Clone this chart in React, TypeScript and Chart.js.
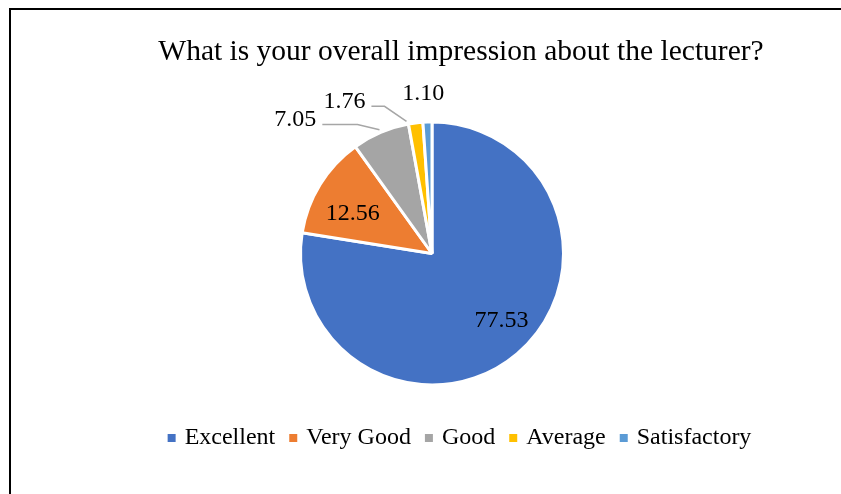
import React, { useEffect, useRef } from "react";
import { Chart, registerables } from "chart.js";

Chart.register(...registerables);

// ---- data ----
const titleText = "What is your overall impression about the lecturer?";
const categories = ["Excellent", "Very Good", "Good", "Average", "Satisfactory"];
const values = [77.53, 12.56, 7.05, 1.76, 1.1];
const colors = ["#4472C4", "#ED7D31", "#A5A5A5", "#FFC000", "#5B9BD5"];

const FONT = "'Liberation Serif', 'Times New Roman', serif";

// data-label placement relative to each slice (angle shift from mid-angle in deg, radius factor)
const labelPlacement = [
  { shift: -5.6, rf: 0.735, leader: false, anchorShift: 0 },
  { shift: -4.8, rf: 0.675, leader: false, anchorShift: 0 },
  { shift: -22.6, rf: 1.455, leader: true, anchorShift: 0 },
  { shift: -22.8, rf: 1.335, leader: true, anchorShift: -3.8 },
  { shift: -1.2, rf: 1.215, leader: false, anchorShift: 0 },
];

const pieLabels = {
  id: "pieLabels",
  afterDatasetsDraw(chart: any) {
    const ctx = chart.ctx as CanvasRenderingContext2D;
    const meta = chart.getDatasetMeta(0);
    ctx.save();
    ctx.font = `24px ${FONT}`;
    ctx.textAlign = "center";
    ctx.textBaseline = "middle";
    meta.data.forEach((arc: any, i: number) => {
      const { x, y, startAngle, endAngle, outerRadius } = arc.getProps(
        ["x", "y", "startAngle", "endAngle", "outerRadius"],
        true
      );
      const p = labelPlacement[i];
      const text = values[i].toFixed(2);
      const mid = (startAngle + endAngle) / 2;
      const a = mid + (p.shift * Math.PI) / 180;
      const lx = x + Math.cos(a) * outerRadius * p.rf;
      const ly = y + Math.sin(a) * outerRadius * p.rf;
      if (p.leader) {
        const w = ctx.measureText(text).width;
        const aa = mid + (p.anchorShift * Math.PI) / 180;
        const ax = x + Math.cos(aa) * (outerRadius + 3);
        const ay = y + Math.sin(aa) * (outerRadius + 3);
        ctx.beginPath();
        ctx.strokeStyle = "#A6A6A6";
        ctx.lineWidth = 1.5;
        ctx.moveTo(lx + w / 2 + 6, ly + 5);
        ctx.lineTo(ax - 22, ly + 5);
        ctx.lineTo(ax, ay);
        ctx.stroke();
      }
      ctx.fillStyle = "#000";
      ctx.fillText(text, lx, ly);
    });
    ctx.restore();
  },
};

// place the pie's plot area independently of the centred title / legend
const plotArea = {
  id: "plotArea",
  afterLayout(chart: any) {
    Object.assign(chart.chartArea, {
      left: 299,
      right: 565,
      top: 120,
      bottom: 387,
      width: 266,
      height: 267,
    });
  },
};

export default function App() {
  const ref = useRef<HTMLCanvasElement>(null);
  useEffect(() => {
    const chart = new Chart(ref.current!, {
      type: "pie",
      data: {
        labels: categories,
        datasets: [
          {
            data: values,
            backgroundColor: colors,
            borderColor: "#FFFFFF",
            borderWidth: 3,
          },
        ],
      },
      options: {
        responsive: false,
        animation: false,
        layout: { padding: { left: 81, right: 0, top: 0, bottom: 34 } },
        plugins: {
          title: {
            display: true,
            text: titleText,
            color: "#000",
            font: { family: FONT, size: 29.5, weight: "normal", lineHeight: 1.2 },
            padding: { top: 35, bottom: 10 },
          },
          legend: {
            position: "bottom",
            labels: {
              usePointStyle: true,
              boxWidth: 2,
              boxHeight: 8,
              padding: 17,
              color: "#000",
              font: { family: FONT, size: 24 },
              generateLabels: () =>
                categories.map((c, i) => ({
                  text: c,
                  fillStyle: colors[i],
                  strokeStyle: colors[i],
                  lineWidth: 0,
                  pointStyle: "rect",
                  hidden: false,
                  index: i,
                  fontColor: "#000",
                })),
            },
          },
          tooltip: { enabled: false },
        },
      } as any,
      plugins: [plotArea, pieLabels],
    });
    return () => chart.destroy();
  }, []);

  return (
    <div
      style={{
        position: "absolute",
        left: 0,
        top: 0,
        width: 841,
        height: 494,
        background: "#fff",
        overflow: "hidden",
      }}
    >
      <div
        style={{
          position: "absolute",
          left: 9,
          top: 8,
          width: 900,
          height: 600,
          borderLeft: "2px solid #000",
          borderTop: "2px solid #000",
        }}
      />
      <canvas
        ref={ref}
        width={841}
        height={494}
        style={{ position: "absolute", left: 0, top: 0 }}
      />
    </div>
  );
}
